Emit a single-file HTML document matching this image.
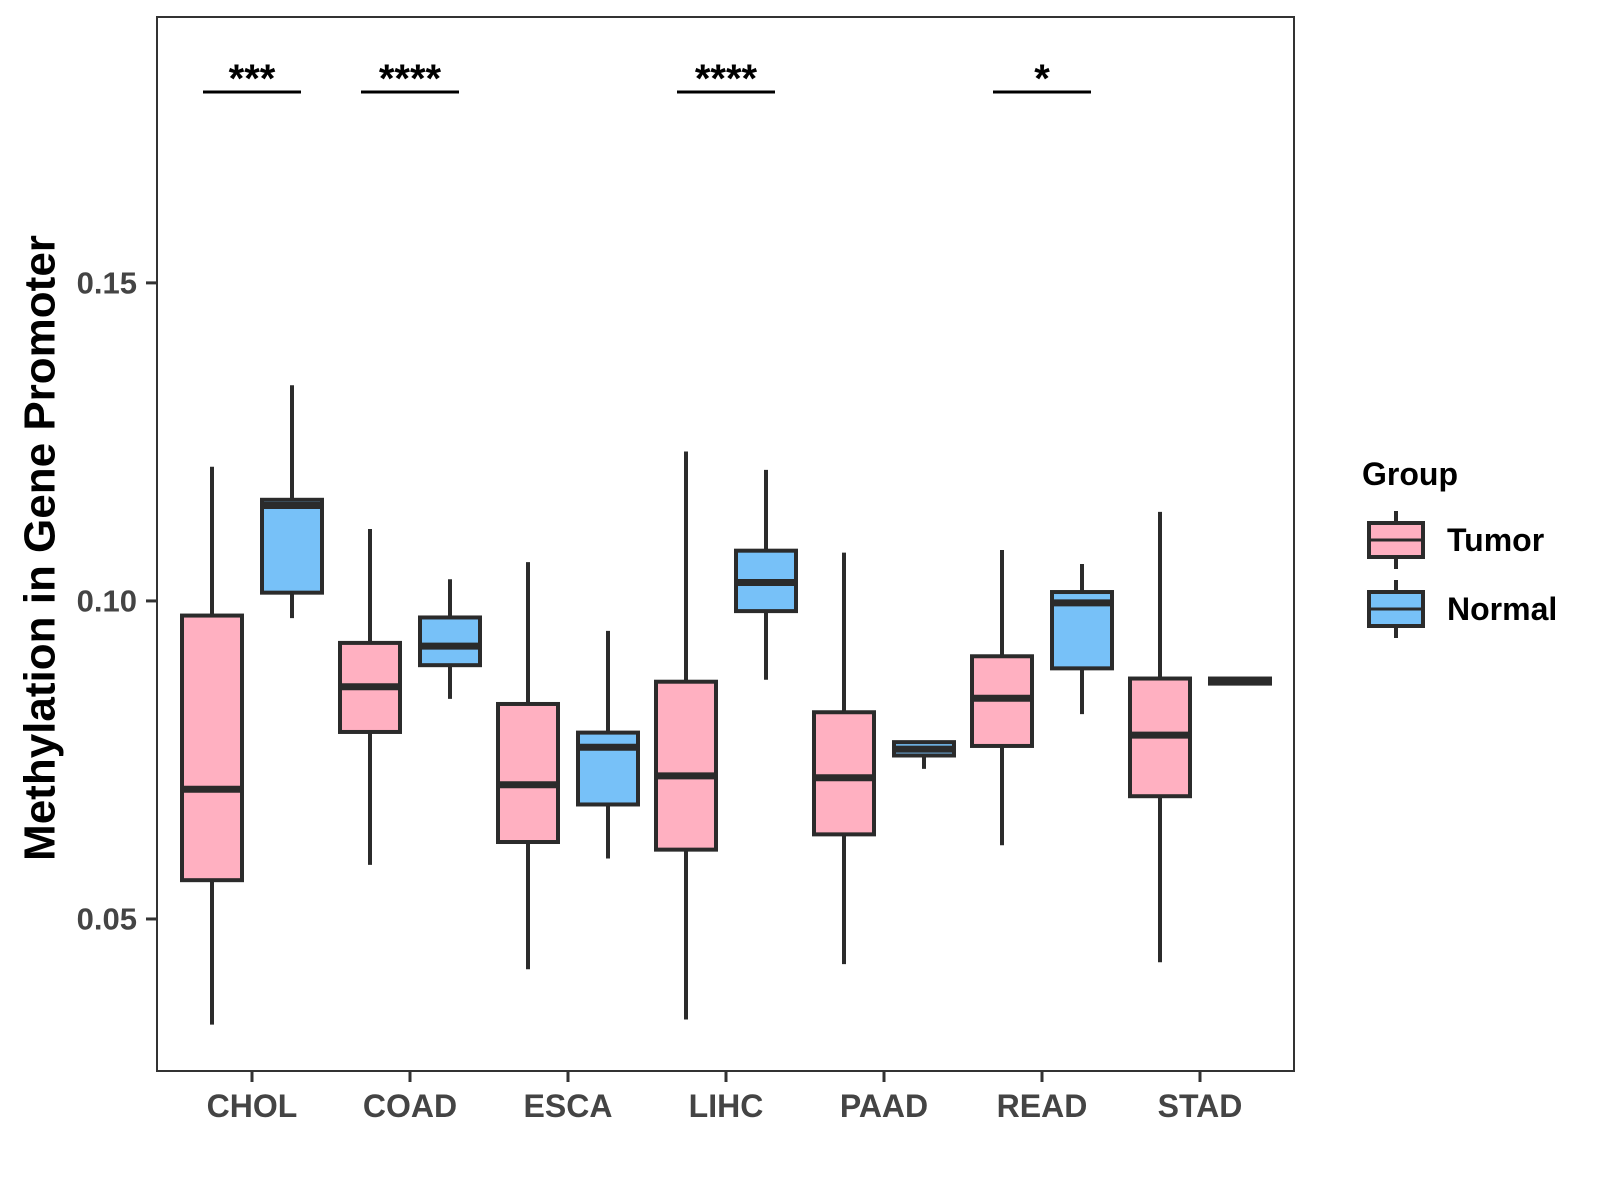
<!DOCTYPE html>
<html><head><meta charset="utf-8"><style>
body{margin:0;background:#fff}
svg{display:block;font-family:"Liberation Sans",Arial,sans-serif}
</style></head><body>
<svg id="chart" width="1600" height="1200" viewBox="0 0 1600 1200">
<text x="40" y="548" transform="rotate(-90 40 548)" text-anchor="middle" dominant-baseline="central" font-size="44" font-weight="bold" fill="#000">Methylation in Gene Promoter</text>
<g>
<text x="1362" y="485" font-size="32" font-weight="bold" fill="#000">Group</text>
<g>
<line x1="1396" y1="511" x2="1396" y2="569" stroke="#2b2b2b" stroke-width="4"/>
<rect x="1369" y="523" width="54" height="34" fill="#ffb0c1" stroke="#2b2b2b" stroke-width="4"/>
<line x1="1369" y1="540" x2="1423" y2="540" stroke="#2b2b2b" stroke-width="3"/>
<text x="1447" y="551" font-size="32" font-weight="bold" fill="#000">Tumor</text>
</g>
<g>
<line x1="1396" y1="580" x2="1396" y2="638" stroke="#2b2b2b" stroke-width="4"/>
<rect x="1369" y="592" width="54" height="34" fill="#77c1f8" stroke="#2b2b2b" stroke-width="4"/>
<line x1="1369" y1="609" x2="1423" y2="609" stroke="#2b2b2b" stroke-width="3"/>
<text x="1447" y="620" font-size="32" font-weight="bold" fill="#000">Normal</text>
</g>
</g>
<g id="plot"></g>
</svg>
<script>
const categories=["CHOL","COAD","ESCA","LIHC","PAAD","READ","STAD"];
// [lower whisker, Q1, median, Q3, upper whisker]
const tumorStats=[[0.0334,0.0561,0.0704,0.0977,0.1211],[0.0585,0.0794,0.0865,0.0934,0.1113],[0.0421,0.0621,0.0711,0.0838,0.1061],[0.0342,0.0609,0.0725,0.0873,0.1235],[0.0429,0.0633,0.0722,0.0825,0.1076],[0.0616,0.0772,0.0847,0.0913,0.1080],[0.0432,0.0693,0.0789,0.0878,0.1140]];
const normalStats=[[0.0973,0.1013,0.1150,0.1159,0.1339],[0.0846,0.0899,0.0929,0.0974,0.1034],[0.0595,0.0680,0.0770,0.0793,0.0953],[0.0876,0.0984,0.1029,0.1079,0.1206],[0.0736,0.0757,0.0767,0.0778,0.0778],[0.0822,0.0894,0.0997,0.1014,0.1058],[0.0868,0.0870,0.0875,0.0878,0.0879]];
const sigLabels=["***","****","","****","","*",""];
const yTicks=[0.05,0.10,0.15];
const yTickLabels=["0.05","0.10","0.15"];
const yMin=0.0261,yMax=0.1918;
const L=157,R=1294,T=17,B=1071;
const X0=252,XSTEP=158;
const ns="http://www.w3.org/2000/svg";
const g=document.getElementById('plot');
const y=v=>B-(v-yMin)/(yMax-yMin)*(B-T);
const x=i=>X0+XSTEP*i;
function mk(tag,a){const e=document.createElementNS(ns,tag);for(const k in a)e.setAttribute(k,a[k]);g.appendChild(e);return e;}
const frame=mk('rect',{x:L,y:T,width:R-L,height:B-T,fill:'none',stroke:'#333',"stroke-width":2});


yTicks.forEach((t,i)=>{
 const tk=mk('line',{x1:L-11,x2:L,y1:y(t),y2:y(t),stroke:'#333',"stroke-width":3});
 
 
 const tl=mk('text',{x:L-20,y:y(t),"text-anchor":"end","dominant-baseline":"central","font-size":31,"font-weight":"bold",fill:"#444"});
 tl.textContent=yTickLabels[i];
 
 
});
function box(cx,s,fill,name){
 const w=60;
 const wl=mk('line',{x1:cx,x2:cx,y1:y(s[4]),y2:y(s[0]),stroke:'#2b2b2b',"stroke-width":4});
 
 
 const r=mk('rect',{x:cx-w/2,y:y(s[3]),width:w,height:Math.max(y(s[1])-y(s[3]),0.5),fill:fill,stroke:'#2b2b2b',"stroke-width":4});
 
 
 const m=mk('line',{x1:cx-w/2,x2:cx+w/2,y1:y(s[2]),y2:y(s[2]),stroke:'#2b2b2b',"stroke-width":7});
 
 
}
categories.forEach((c,i)=>{
 const cx=x(i);
 box(cx-40,tumorStats[i],'#ffb0c1',c.toLowerCase()+'-tumor');
 box(cx+40,normalStats[i],'#77c1f8',c.toLowerCase()+'-normal');
 const tk=mk('line',{x1:cx,x2:cx,y1:B,y2:B+11,stroke:'#333',"stroke-width":3});
 
 
 const tl=mk('text',{x:cx,y:1106,"text-anchor":"middle","dominant-baseline":"central","font-size":32,"font-weight":"bold",fill:"#444"});
 tl.textContent=c;
 
 
 if(sigLabels[i]){
  const sl=mk('line',{x1:cx-49,x2:cx+49,y1:92,y2:92,stroke:'#000',"stroke-width":3});
  
  
  const st=mk('text',{x:cx,y:92,"text-anchor":"middle","font-size":40,"font-weight":"bold",fill:"#000"});
  st.textContent=sigLabels[i];
  
  
 }
});
</script>
</body></html>
